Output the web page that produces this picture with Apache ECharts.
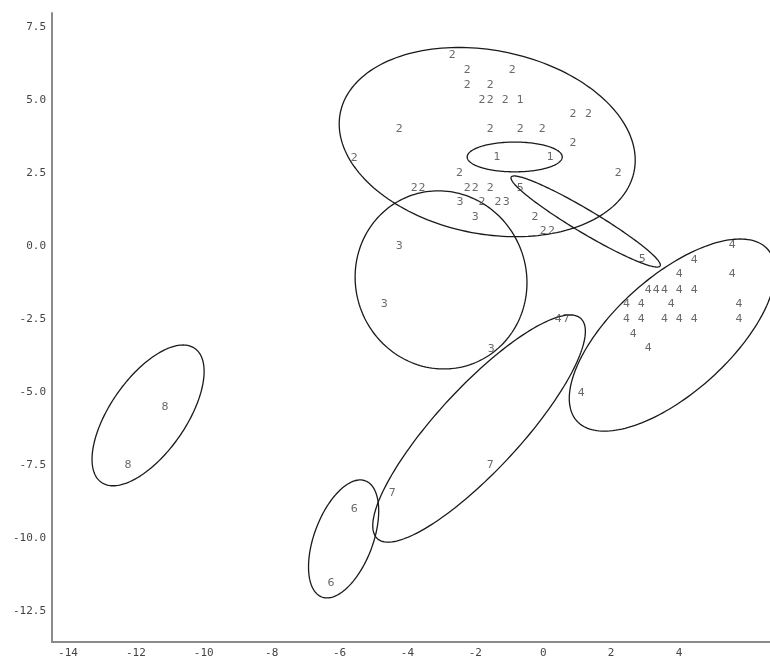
<!DOCTYPE html>
<html>
<head>
<meta charset="utf-8">
<script src="https://cdn.jsdelivr.net/npm/echarts@6/dist/echarts.min.js"></script>
<style>html,body{margin:0;padding:0;background:#fff}#c{width:770px;height:661px}</style>
</head>
<body>
<div id="c"></div>
<script>
// Tick labels
var xTicks = [-14, -12, -10, -8, -6, -4, -2, 0, 2, 4];
var yTicks = [-12.5, -10, -7.5, -5, -2.5, 0, 2.5, 5, 7.5];

// Points per cluster (label = cluster id)
var c1x = [-0.68, -1.36, 0.21];
var c1y = [5.0, 3.05, 3.05];
var c2x = [-2.68, -2.24, -0.91, -2.24, -1.56, -1.80, -1.56, -1.12, 0.88, 1.33, -4.24, -1.56, -0.68, -0.03, 0.88, -5.57, -2.47, 2.21, -3.80, -3.57, -2.24, -2.00, -1.56, -1.80, -1.33, -0.24, 0.00, 0.24];
var c2y = [6.54, 6.03, 6.03, 5.51, 5.51, 5.0, 5.0, 5.0, 4.52, 4.52, 4.01, 4.01, 4.01, 4.01, 3.53, 3.01, 2.50, 2.50, 1.99, 1.99, 1.99, 1.99, 1.99, 1.51, 1.51, 0.99, 0.51, 0.51];
var c3x = [-2.45, -1.09, -2.00, -4.24, -4.68, -1.53];
var c3y = [1.51, 1.51, 0.99, 0.0, -1.99, -3.53];
var c4x = [5.57, 4.45, 4.01, 5.57, 3.09, 3.33, 3.57, 4.01, 4.45, 2.45, 2.89, 3.77, 5.77, 2.45, 2.89, 3.57, 4.01, 4.45, 5.77, 2.65, 3.09, 1.12, 0.44];
var c4y = [0.03, -0.48, -0.96, -0.96, -1.51, -1.51, -1.51, -1.51, -1.51, -1.99, -1.99, -1.99, -1.99, -2.50, -2.50, -2.50, -2.50, -2.50, -2.50, -3.01, -3.49, -5.03, -2.50];
var c5x = [-0.68, 2.92];
var c5y = [1.99, -0.45];
var c6x = [-5.57, -6.25];
var c6y = [-9.01, -11.54];
var c7x = [0.68, -1.56, -4.45];
var c7y = [-2.50, -7.50, -8.46];
var c8x = [-11.14, -12.23];
var c8y = [-5.51, -7.50];

// Ellipses: centre and two conjugate semi-diameters (data units)
var ellCx = [-1.65, -0.84, 1.25, -3.01, -1.89, -5.88, -11.64, 3.80];
var ellCy = [3.56, 3.05, 0.84, -1.16, -6.25, -10.03, -5.80, -3.05];
var ellAx = [4.36, 1.40, 2.20, 2.53, 1.62, 0.91, 1.29, 2.28];
var ellAy = [-0.62, 0, -1.49, 0, 0, 0, 0, 0];
var ellBx = [0, 0, 0, -0.08, 2.68, 0.49, 1.03, 2.00];
var ellBy = [3.18, 0.51, 0.46, 3.05, 3.89, 2.02, 2.41, 3.29];

var clusters = [[c1x,c1y,'1'],[c2x,c2y,'2'],[c3x,c3y,'3'],[c4x,c4y,'4'],[c5x,c5y,'5'],[c6x,c6y,'6'],[c7x,c7y,'7'],[c8x,c8y,'8']];
var pts = [];
clusters.forEach(function (c) {
  for (var i = 0; i < c[0].length; i++) pts.push([c[0][i], c[1][i], c[2]]);
});
var ells = ellCx.map(function (v, i) { return [ellCx[i], ellCy[i], ellAx[i], ellAy[i], ellBx[i], ellBy[i]]; });

var chart = echarts.init(document.getElementById('c'), null, {renderer: 'canvas'});
chart.setOption({
  animation: false,
  backgroundColor: '#fff',
  grid: {left: 52, right: 0, top: 13, bottom: 19, containLabel: false, outerBoundsMode: 'none'},
  xAxis: {
    type: 'value', min: -14.47, max: 6.68,
    splitLine: {show: false},
    axisTick: {show: false},
    axisLine: {show: true, onZero: false, lineStyle: {color: '#8a8a8a', width: 2}},
    axisLabel: {customValues: xTicks, color: '#444', fontFamily: 'DejaVu Sans Mono', fontSize: 11, margin: 6,
      formatter: function (v) { return String(v); }}
  },
  yAxis: {
    type: 'value', min: -13.56, max: 7.98,
    splitLine: {show: false},
    axisTick: {show: false},
    axisLine: {show: true, onZero: false, lineStyle: {color: '#8a8a8a', width: 2}},
    axisLabel: {customValues: yTicks, color: '#444', fontFamily: 'DejaVu Sans Mono', fontSize: 11, margin: 6,
      formatter: function (v) { return v.toFixed(1); }}
  },
  series: [
    {
      type: 'custom',
      clip: false,
      data: ells,
      encode: {x: 0, y: 1},
      renderItem: function (params, api) {
        var cx = api.value(0), cy = api.value(1), ax = api.value(2), ay = api.value(3), bx = api.value(4), by = api.value(5);
        var points = [];
        var n = 180;
        for (var k = 0; k < n; k++) {
          var t = 2 * Math.PI * k / n;
          points.push(api.coord([cx + ax * Math.cos(t) + bx * Math.sin(t), cy + ay * Math.cos(t) + by * Math.sin(t)]));
        }
        return {type: 'polygon', shape: {points: points}, style: {fill: null, stroke: '#1a1a1a', lineWidth: 1.3}, silent: true};
      },
      z: 1
    },
    {
      type: 'scatter',
      data: pts,
      symbolSize: 1,
      itemStyle: {color: 'rgba(0,0,0,0)'},
      label: {show: true, position: 'inside', color: '#444', fontFamily: 'DejaVu Sans', fontSize: 11,
        formatter: function (p) { return p.value[2]; }},
      z: 2
    }
  ]
});
</script>
</body>
</html>
